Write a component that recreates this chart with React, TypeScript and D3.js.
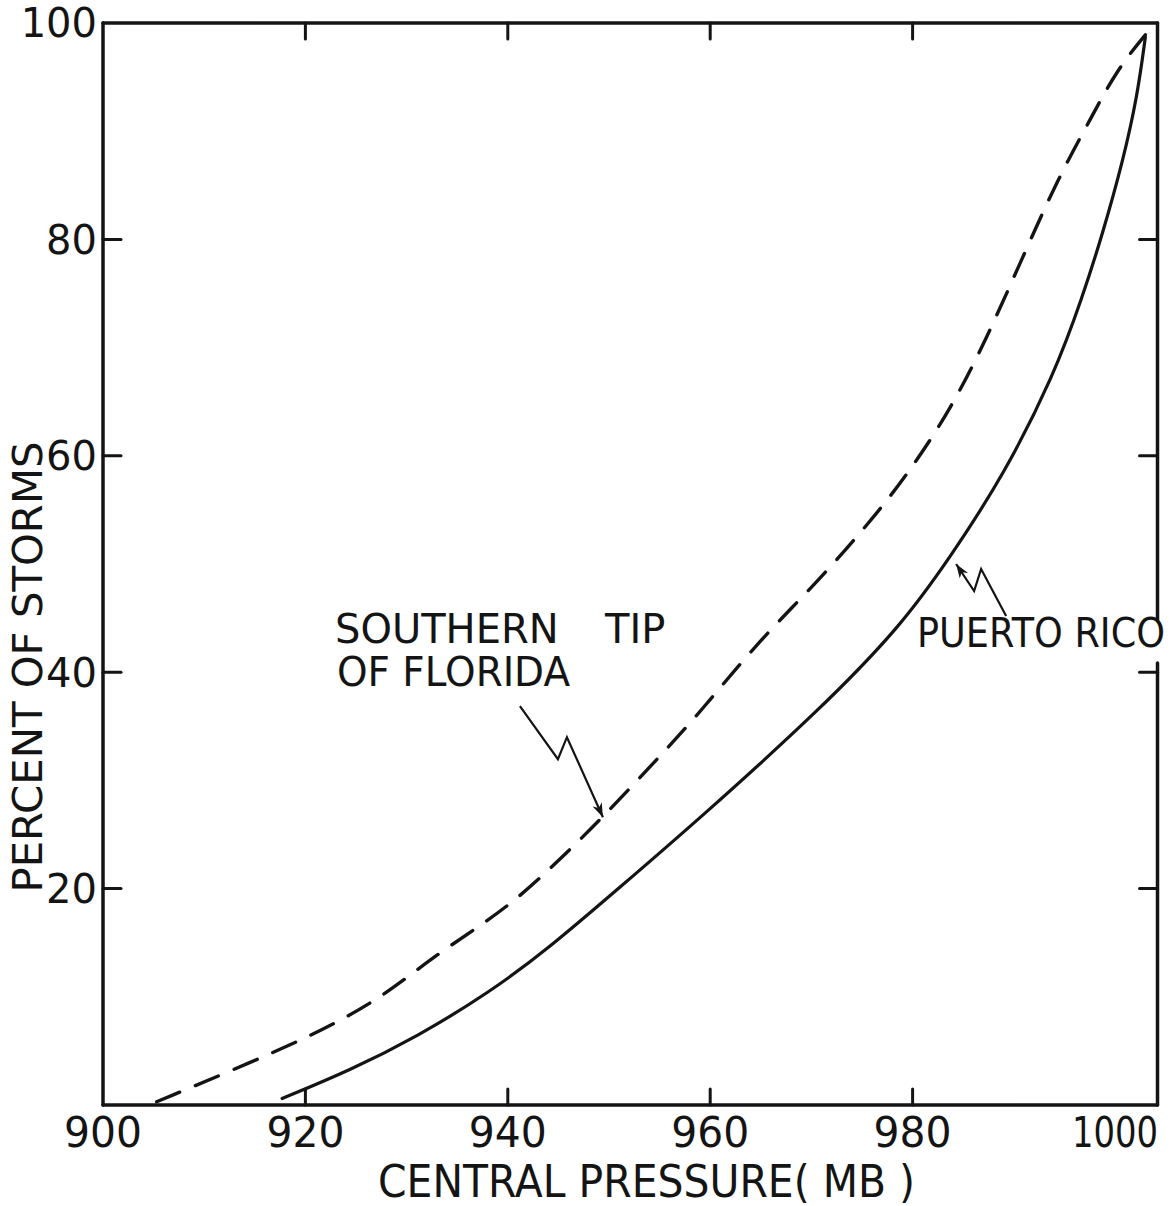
import React from "react";
import * as d3 from "d3";

// Puerto Rico (solid curve)
const prPressure = [917.7, 924.4, 931.0, 938.2, 944.2, 950.8, 959.0, 970.8, 978.8, 983.7, 989.0, 994.0, 996.8, 998.8, 1000.8, 1002.2, 1003.0];
const prPercent = [0.6, 3.2, 6.3, 10.4, 14.6, 19.9, 26.5, 36.5, 44.2, 50.6, 58.2, 67.5, 74.7, 80.6, 87.3, 93.2, 98.7];

// Southern tip of Florida (dashed curve)
const flPressure = [905.3, 914.8, 921.7, 927.7, 933.0, 940.2, 945.8, 949.4, 955.3, 959.0, 964.9, 970.8, 976.8, 980.0, 983.7, 987.3, 990.9, 994.3, 997.5, 1000.2, 1003.0];
const flPercent = [0.3, 4.0, 6.9, 10.0, 14.0, 18.3, 23.3, 26.6, 32.5, 36.3, 43.0, 48.5, 55.0, 59.0, 64.2, 70.8, 78.4, 85.5, 91.0, 95.7, 98.9];

const xTickValues = [900, 920, 940, 960, 980, 1000];
const xTickLabels = ["900", "920", "940", "960", "980", "1000"];
const yTickValues = [20, 40, 60, 80, 100];
const yTickLabels = ["20", "40", "60", "80", "100"];
const innerXTicks = [920, 940, 960, 980];
const innerYTicks = [20, 40, 60, 80];

const xDomainMax = 1004.2;
const font = "'DejaVu Sans', Verdana, sans-serif";
const ink = "#141414";

export default function App() {
  const W = 1173;
  const H = 1206;
  const x = d3.scaleLinear().domain([900, 1000]).range([103, 1115]);
  const y = d3.scaleLinear().domain([0, 100]).range([1105, 23]);
  const left = x(900);
  const right = x(xDomainMax);
  const top = y(100);
  const bottom = y(0);

  const line = d3
    .line<[number, number]>()
    .x((d) => x(d[0]))
    .y((d) => y(d[1]))
    .curve(d3.curveBasis);

  const prData: [number, number][] = prPressure.map((p, i) => [p, prPercent[i]]);
  const flData: [number, number][] = flPressure.map((p, i) => [p, flPercent[i]]);

  // annotation anchors (data coords) and zigzag offsets (px)
  const flTip = [x(949.4), y(26.6)];
  const flZig = [[-83, -111], [-45, -58], [-36, -80], [0, 0]];
  const prTip = [x(984.3), y(50.0)];
  const prZig = [[50, 52], [25, 5], [18, 27], [0, 0]];
  const zig = (tip: number[], offs: number[][]) =>
    offs.map((o, i) => `${i === 0 ? "M" : "L"}${tip[0] + o[0]},${tip[1] + o[1]}`).join(" ");

  const gapTop = 620;
  const gapBottom = 663;

  return (
    <svg
      width={W}
      height={H}
      viewBox={`0 0 ${W} ${H}`}
      style={{ position: "absolute", left: 0, top: 0, background: "#fff" }}
    >
      <defs>
        <marker
          id="arrowHead"
          markerUnits="userSpaceOnUse"
          markerWidth={16}
          markerHeight={12}
          refX={14}
          refY={5}
          orient="auto"
        >
          <path d="M0,0 L14,5 L0,10 L4,5 z" fill={ink} />
        </marker>
      </defs>
      <rect x={0} y={0} width={W} height={H} fill="#fff" />

      {/* frame */}
      <g stroke={ink} strokeWidth={3.5} fill="none" strokeLinecap="round">
        <line x1={left} y1={top} x2={right} y2={top} />
        <line x1={left} y1={bottom} x2={right} y2={bottom} />
        <line x1={left} y1={top} x2={left} y2={bottom} />
        <line x1={right} y1={top} x2={right} y2={gapTop} />
        <line x1={right} y1={gapBottom} x2={right} y2={bottom} />
      </g>

      {/* ticks */}
      <g stroke={ink} strokeWidth={3} strokeLinecap="round">
        {innerXTicks.map((v) => (
          <g key={"xt" + v}>
            <line x1={x(v)} y1={bottom} x2={x(v)} y2={bottom - 16} />
            <line x1={x(v)} y1={top} x2={x(v)} y2={top + 16} />
          </g>
        ))}
        {innerYTicks.map((v) => (
          <g key={"yt" + v}>
            <line x1={left} y1={y(v)} x2={left + 18} y2={y(v)} />
            <line x1={right} y1={y(v)} x2={right - 18} y2={y(v)} />
          </g>
        ))}
      </g>

      {/* tick labels */}
      <g fill={ink} fontFamily={font} fontSize={42}>
        {xTickValues.map((v, i) => (
          <text
            key={"xl" + v}
            x={x(v)}
            y={1147}
            textAnchor="middle"
            textLength={xTickLabels[i].length === 4 ? 86 : 78}
            lengthAdjust="spacingAndGlyphs"
          >
            {xTickLabels[i]}
          </text>
        ))}
      </g>
      <g fill={ink} fontFamily={font} fontSize={40}>
        {yTickValues.map((v, i) => (
          <text
            key={"yl" + v}
            x={97}
            y={y(v)}
            dy="0.36em"
            textAnchor="end"
          >
            {yTickLabels[i]}
          </text>
        ))}
      </g>

      {/* axis titles */}
      <text
        x={378}
        y={1197}
        fill={ink}
        fontFamily={font}
        fontSize={44}
        textLength={537}
        lengthAdjust="spacingAndGlyphs"
      >
        CENTRAL PRESSURE( MB )
      </text>
      <text
        transform={`translate(42,${667}) rotate(-90)`}
        textAnchor="middle"
        fill={ink}
        fontFamily={font}
        fontSize={41}
        textLength={451}
        lengthAdjust="spacingAndGlyphs"
      >
        PERCENT OF STORMS
      </text>

      {/* curves */}
      <path d={line(prData) || ""} fill="none" stroke={ink} strokeWidth={3.2} strokeLinecap="round" />
      <path
        d={line(flData) || ""}
        fill="none"
        stroke={ink}
        strokeWidth={3.4}
        strokeDasharray="25 17"
        strokeLinecap="round"
      />

      {/* annotations */}
      <g fill={ink} fontFamily={font} fontSize={40}>
        <text x={335} y={643}>
          SOUTHERN <tspan x={605}>TIP</tspan>
        </text>
        <text x={337} y={686} textLength={233} lengthAdjust="spacingAndGlyphs">
          OF FLORIDA
        </text>
        <text x={917} y={647} textLength={248} lengthAdjust="spacingAndGlyphs">
          PUERTO RICO
        </text>
      </g>
      <path d={zig(flTip, flZig)} fill="none" stroke={ink} strokeWidth={2.2} markerEnd="url(#arrowHead)" />
      <path d={zig(prTip, prZig)} fill="none" stroke={ink} strokeWidth={2.2} markerEnd="url(#arrowHead)" />
    </svg>
  );
}
